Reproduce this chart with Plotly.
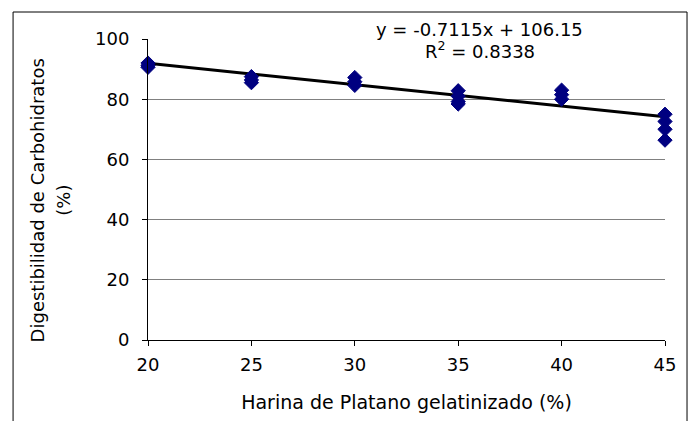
import plotly.graph_objects as go

harina = [20, 20, 20, 25, 25, 25, 30, 30, 30, 35, 35, 35, 35, 40, 40, 40, 45, 45, 45, 45]
digest = [92.0, 91.2, 90.6, 87.5, 86.4, 85.5, 87.2, 85.8, 84.6, 82.8, 81.0, 79.2, 78.4,
          83.0, 81.5, 80.0, 75.0, 72.6, 70.0, 66.4]
slope = -0.7115
intercept = 106.15
r2 = 0.8338
x_ticks = [20, 25, 30, 35, 40, 45]
y_ticks = [0, 20, 40, 60, 80, 100]

FONT = "DejaVu Sans"
trend_x = [min(harina), max(harina)]
trend_y = [slope * v + intercept for v in trend_x]

fig = go.Figure()
fig.add_trace(go.Scatter(x=trend_x, y=trend_y, mode="lines",
                         line=dict(color="black", width=3), showlegend=False,
                         cliponaxis=False))
fig.add_trace(go.Scatter(x=harina, y=digest, mode="markers",
                         marker=dict(symbol="diamond", size=11, color="#000080",
                                     line=dict(color="#000080", width=1)),
                         showlegend=False, cliponaxis=False))

fig.add_annotation(xref="paper", yref="paper", x=0.642, y=1.03, yanchor="middle",
                   text=f"y = {slope}x + {intercept}", showarrow=False,
                   font=dict(family=FONT, size=18, color="black"))
fig.add_annotation(xref="paper", yref="paper", x=0.642, y=0.962, yanchor="middle",
                   text=f"R<sup>2</sup> = {r2}", showarrow=False,
                   font=dict(family=FONT, size=18, color="black"))

# y title (two lines)
fig.add_annotation(xref="paper", yref="paper", x=-0.214, y=0.465, xanchor="center",
                   yanchor="middle", textangle=-90, showarrow=False,
                   text="Digestibilidad de Carbohidratos",
                   font=dict(family=FONT, size=18, color="black"))
fig.add_annotation(xref="paper", yref="paper", x=-0.165, y=0.465, xanchor="center",
                   yanchor="middle", textangle=-90, showarrow=False,
                   text="(%)", font=dict(family=FONT, size=18, color="black"))

# outer border
fig.add_shape(type="rect", xref="paper", yref="paper", x0=-0.261, x1=1.0426,
              y0=-0.3, y1=1.0897, line=dict(color="black", width=1))

fig.update_layout(
    width=693, height=421,
    margin=dict(l=148, r=28, t=39, b=81),
    paper_bgcolor="white", plot_bgcolor="white",
    font=dict(family=FONT, size=18, color="black"),
    xaxis=dict(range=[20, 45], tickvals=x_ticks, showgrid=False, zeroline=False,
               showline=True, linecolor="black", linewidth=1,
               ticks="outside", ticklen=5, tickcolor="black",
               title=dict(text="Harina de Platano gelatinizado (%)",
                          font=dict(family=FONT, size=19), standoff=22),
               tickfont=dict(family=FONT, size=18), ticklabelstandoff=3),
    yaxis=dict(range=[0, 100], tickvals=y_ticks, showgrid=True, gridcolor="#808080",
               gridwidth=1, zeroline=False, showline=True, linecolor="black",
               linewidth=1, ticks="outside", ticklen=5, tickcolor="black",
               tickfont=dict(family=FONT, size=18), ticklabelstandoff=9),
)

fig.write_html("out.html")
